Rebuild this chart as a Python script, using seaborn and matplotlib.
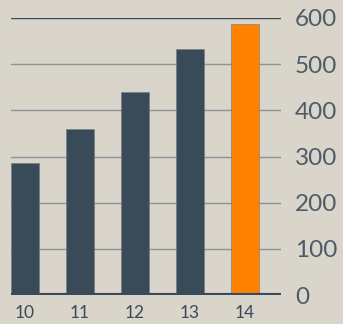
import matplotlib
matplotlib.use("Agg")
import matplotlib.pyplot as plt
import seaborn as sns
import pandas as pd

categories = ["10", "11", "12", "13", "14"]
values = [287, 360, 440, 532, 586]
yticks = [0, 100, 200, 300, 400, 500, 600]

bg = "#d9d5ca"
slate = "#394a59"
orange = "#ff8200"

sns.set_theme(style="white")
plt.rcParams["font.family"] = ["Lato", "DejaVu Sans"]

df = pd.DataFrame({"year": categories, "value": values})
colors = {c: (orange if c == "14" else slate) for c in categories}

fig = plt.figure(figsize=(3.43, 3.24), dpi=100, facecolor=bg)
ax = fig.add_axes([11/343, 1 - 295/324, (281 - 11)/343, (295 - 18)/324])
ax.set_facecolor(bg)

for y in yticks[1:-1]:
    ax.axhline(y, color="#8b9398", lw=1.0, zorder=0)
ax.axhline(600, color=slate, lw=1.0, zorder=0)

sns.barplot(data=df, x="year", y="value", hue="year", palette=colors,
            width=0.51, legend=False, ax=ax, saturation=1, zorder=2,
            edgecolor="#6d7880", linewidth=0.4)

ax.axhline(0, color=slate, lw=3, zorder=3)

ax.set_xlim(-0.255, 4.66)
ax.set_ylim(0, 600)
ax.set_yticks(yticks)
ax.yaxis.tick_right()
ax.tick_params(axis="y", length=0, pad=10, labelsize=17.5, labelcolor="#4e5c67")
ax.tick_params(axis="x", length=0, pad=7, labelsize=12.5, labelcolor="#3a4a57")
ax.set_xlabel("")
ax.set_ylabel("")
for s in ax.spines.values():
    s.set_visible(False)

fig.savefig("out.png", dpi=100, facecolor=bg)
